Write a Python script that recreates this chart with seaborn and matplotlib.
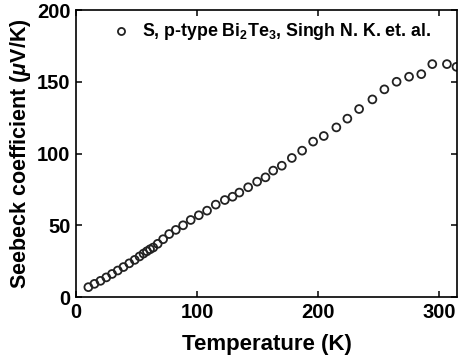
import matplotlib
matplotlib.use("Agg")
import matplotlib.pyplot as plt
import seaborn as sns
import pandas as pd

# Seebeck coefficient of p-type Bi2Te3 versus temperature
temperature_k = [10.2, 15.2, 20.2, 25.0, 29.8, 34.5, 39.2, 44.0, 48.5, 52.5,
                 55.8, 58.6, 61.2, 63.8, 67.5, 72.0, 77.0, 82.5, 88.5, 94.8,
                 101.5, 108.3, 115.5, 123.0, 129.4, 135.0, 142.3, 149.7, 156.6, 163.0,
                 170.1, 178.4, 186.9, 196.0, 204.8, 215.2, 224.3, 234.0, 245.0, 254.9,
                 265.0, 275.3, 285.4, 294.5, 306.6, 314.5]
seebeck_uv_k = [7.0, 9.3, 11.4, 13.8, 16.2, 18.6, 21.0, 23.6, 26.0, 28.4,
                30.4, 32.0, 33.4, 34.6, 37.2, 40.4, 44.0, 46.9, 50.1, 53.8,
                57.1, 60.3, 64.5, 67.7, 70.0, 72.9, 76.6, 80.5, 83.5, 88.2,
                91.6, 97.0, 102.1, 108.4, 112.3, 118.3, 124.4, 131.1, 137.8, 144.8,
                150.1, 153.6, 155.4, 162.4, 162.4, 160.5]
series_label = "S, p-type Bi$_2$Te$_3$, Singh N. K. et. al."
x_ticks = [0, 100, 200, 300]
y_ticks = [0, 50, 100, 150, 200]

sns.set_theme(style="ticks")
plt.rcParams["font.family"] = ["Liberation Sans", "DejaVu Sans"]
plt.rcParams["font.weight"] = "bold"
plt.rcParams["axes.labelweight"] = "bold"
plt.rcParams["text.color"] = "black"
plt.rcParams["axes.labelcolor"] = "black"
plt.rcParams["mathtext.fontset"] = "custom"
plt.rcParams["mathtext.rm"] = "Liberation Sans:bold"
plt.rcParams["mathtext.it"] = "Liberation Sans:italic:bold"
plt.rcParams["mathtext.bf"] = "Liberation Sans:bold"

df = pd.DataFrame({"T": temperature_k, "S": seebeck_uv_k})

fig = plt.figure(figsize=(4.58, 3.62), dpi=100)
ax = fig.add_axes([0.166, 0.179, 0.832, 0.793])

sns.scatterplot(data=df, x="T", y="S", ax=ax, marker="o", s=32,
                facecolors="none", edgecolor="#222222", linewidth=1.3,
                label=series_label, clip_on=True)

ax.set_xlim(0, 315)
ax.set_ylim(0, 200)
ax.set_xticks(x_ticks)
ax.set_yticks(y_ticks)
ax.tick_params(direction="in", top=True, right=True, length=4, width=1.1,
               labelsize=14.5, pad=4, colors="black")
for lbl in ax.get_xticklabels() + ax.get_yticklabels():
    lbl.set_fontweight("bold")
for sp in ax.spines.values():
    sp.set_visible(True)
    sp.set_linewidth(1.2)
    sp.set_color("black")

ax.set_xlabel("Temperature (K)", fontsize=16, fontweight="bold", labelpad=9)
ax.set_ylabel("Seebeck coefficient ($\\mu$V/K)", fontsize=15.5, fontweight="bold", labelpad=3)

leg = ax.legend(loc="upper left", frameon=False, fontsize=12.8,
                bbox_to_anchor=(0.04, 1.005), handletextpad=0.15,
                borderaxespad=0.3, markerscale=0.9)
for t in leg.get_texts():
    t.set_fontweight("bold")
    t.set_color("black")

fig.savefig("out.png", dpi=100)
